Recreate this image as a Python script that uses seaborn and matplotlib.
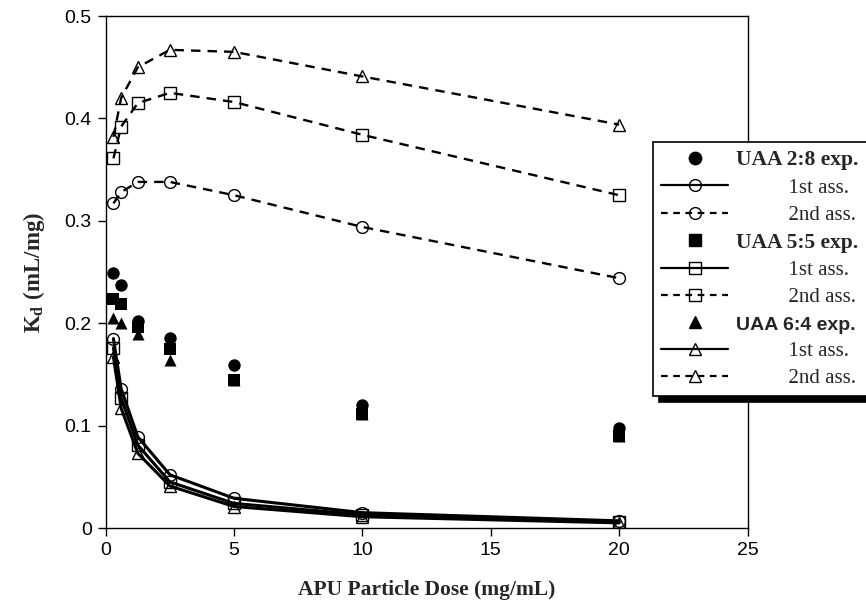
import matplotlib
matplotlib.use("Agg")
import matplotlib.pyplot as plt
import seaborn as sns
import pandas as pd
from matplotlib.lines import Line2D
from matplotlib.font_manager import FontProperties

# ---------------- data ----------------
dose = [0.3, 0.6, 1.25, 2.5, 5, 10, 20]

exp_28 = [0.249, 0.237, 0.202, 0.186, 0.159, 0.120, 0.098]
exp_55 = [0.224, 0.219, 0.196, 0.175, 0.145, 0.111, 0.090]
exp_64 = [0.205, 0.200, 0.189, 0.164, 0.145, 0.111, 0.090]

ass1_28 = [0.185, 0.136, 0.089, 0.052, 0.029, 0.015, 0.007]
ass1_55 = [0.176, 0.127, 0.081, 0.045, 0.024, 0.013, 0.006]
ass1_64 = [0.167, 0.117, 0.073, 0.041, 0.021, 0.011, 0.005]

ass2_28 = [0.317, 0.328, 0.338, 0.338, 0.325, 0.294, 0.244]
ass2_55 = [0.361, 0.392, 0.415, 0.425, 0.416, 0.384, 0.325]
ass2_64 = [0.382, 0.420, 0.450, 0.467, 0.465, 0.441, 0.394]

x_ticks = [0, 5, 10, 15, 20, 25]
y_ticks = [0, 0.1, 0.2, 0.3, 0.4, 0.5]
y_tick_labels = ["0", "0.1", "0.2", "0.3", "0.4", "0.5"]

legend_labels = ["UAA 2:8 exp.", "1st ass.", "2nd ass.",
                 "UAA 5:5 exp.", "1st ass.", "2nd ass.",
                 "UAA 6:4 exp.", "1st ass.", "2nd ass."]

# ---------------- style ----------------
sns.set_style("ticks")
plt.rcParams["font.family"] = ["Liberation Sans", "DejaVu Sans"]
plt.rcParams["mathtext.fontset"] = "custom"
plt.rcParams["mathtext.rm"] = "Liberation Serif"
plt.rcParams["mathtext.bf"] = "Liberation Serif:bold"

fig = plt.figure(figsize=(8.66, 6.10), dpi=100)
ax = fig.add_axes([0.1221, 0.1344, 0.7411, 0.8393])

df = pd.DataFrame({"dose": dose,
                   "exp_28": exp_28, "exp_55": exp_55, "exp_64": exp_64,
                   "ass1_28": ass1_28, "ass1_55": ass1_55, "ass1_64": ass1_64,
                   "ass2_28": ass2_28, "ass2_55": ass2_55, "ass2_64": ass2_64})

markers = {"28": "o", "55": "s", "64": "^"}
msize = {"o": 8.5, "s": 8.0, "^": 8.5}

# 2nd assumption (dashed)
for key in ["28", "55", "64"]:
    m = markers[key]
    sns.lineplot(data=df, x="dose", y=f"ass2_{key}", ax=ax, color="black",
                 linewidth=1.7, dashes=False, linestyle=(0, (4, 3)),
                 marker=m, markersize=msize[m], markerfacecolor="none",
                 markeredgecolor="black", markeredgewidth=1.0, estimator=None)

# 1st assumption (solid)
for key in ["28", "55", "64"]:
    m = markers[key]
    sns.lineplot(data=df, x="dose", y=f"ass1_{key}", ax=ax, color="black",
                 linewidth=2.2, linestyle="-",
                 marker=m, markersize=msize[m], markerfacecolor="none",
                 markeredgecolor="black", markeredgewidth=1.0, estimator=None)

# experimental (filled)
for key, s in [("64", 75), ("55", 70), ("28", 80)]:
    sns.scatterplot(data=df, x="dose", y=f"exp_{key}", ax=ax, color="black",
                    marker=markers[key], s=s, edgecolor="black", linewidth=0,
                    zorder=5)

ax.set_xlim(0, 25)
ax.set_ylim(0, 0.5)
ax.set_xticks(x_ticks)
ax.set_yticks(y_ticks)
ax.set_yticklabels(y_tick_labels)
ax.tick_params(axis="both", direction="out", length=6, width=1,
               labelsize=14, colors="black", pad=4)
for sp in ax.spines.values():
    sp.set_visible(True)
    sp.set_color("black")
    sp.set_linewidth(1.0)

ax.set_xlabel("APU Particle Dose (mg/mL)", family="Liberation Serif",
              fontweight="bold", fontsize=15.5, labelpad=15)
ax.set_ylabel(r"$\mathbf{K_d}$ $\mathbf{(mL/mg)}$", fontsize=16.5, labelpad=13)

# ---------------- legend ----------------
def exp_handle(m):
    return Line2D([], [], linestyle="none", marker=m, color="black",
                  markersize=msize[m] * 1.05, markerfacecolor="black")

def ass_handle(m, ls):
    return Line2D([], [], linestyle=ls, linewidth=1.6, color="black",
                  marker=m, markersize=msize[m], markerfacecolor="none",
                  markeredgecolor="black", markeredgewidth=1.0)

handles = []
for key in ["28", "55", "64"]:
    m = markers[key]
    handles += [exp_handle(m), ass_handle(m, "-"), ass_handle(m, (0, (3, 2.5)))]

pad_labels = []
for lab in legend_labels:
    if "ass." in lab:
        pad_labels.append("          " + lab)
    else:
        pad_labels.append(lab)

leg = fig.legend(handles, pad_labels, loc="upper left",
                 bbox_to_anchor=(653 / 866, 1 - 142 / 610),
                 bbox_transform=fig.transFigure, borderaxespad=0,
                 frameon=True, fancybox=False,
                 shadow={"ox": 4, "oy": -4, "color": "black", "alpha": 1},
                 handlelength=3.2, handletextpad=0.4, labelspacing=0.37,
                 borderpad=0.4, fontsize=15)
leg.get_frame().set_edgecolor("black")
leg.get_frame().set_linewidth(1.2)
leg.get_frame().set_facecolor("white")

for i, t in enumerate(leg.get_texts()):
    if i == 6:
        t.set_fontproperties(FontProperties(family="Liberation Sans", weight="bold", size=14))
    elif i % 3 == 0:
        t.set_fontproperties(FontProperties(family="Liberation Serif", weight="bold", size=15.5))
    else:
        t.set_fontproperties(FontProperties(family="Liberation Serif", weight="normal", size=15))

fig.savefig("out.png", dpi=100)
